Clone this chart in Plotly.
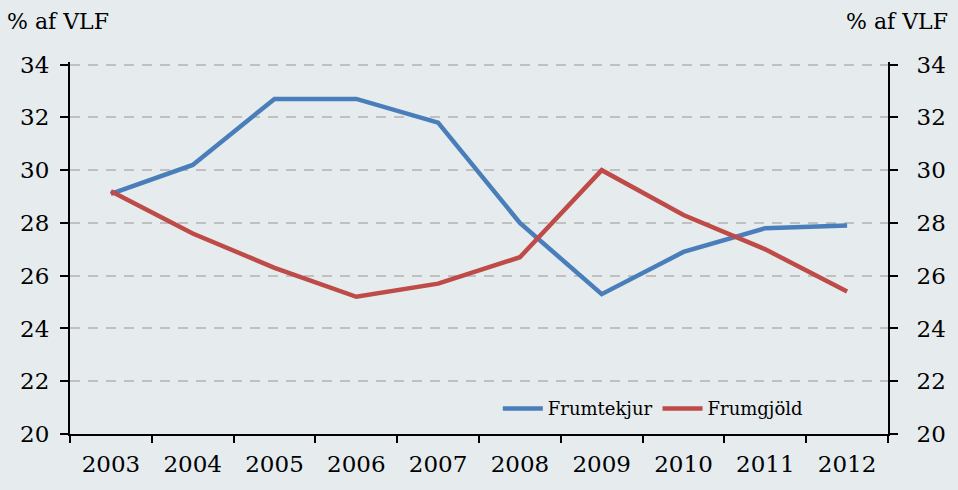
import plotly.graph_objects as go

years = ["2003", "2004", "2005", "2006", "2007", "2008", "2009", "2010", "2011", "2012"]
frumtekjur = [29.1, 30.2, 32.7, 32.7, 31.8, 28.0, 25.3, 26.9, 27.8, 27.9]
frumgjold = [29.2, 27.6, 26.3, 25.2, 25.7, 26.7, 30.0, 28.3, 27.0, 25.4]
y_ticks = [20, 22, 24, 26, 28, 30, 32, 34]

FONT = "DejaVu Serif"
BG = "#e6ebee"

fig = go.Figure()
fig.add_trace(go.Scatter(x=years, y=frumtekjur, name="Frumtekjur", mode="lines",
                         line=dict(color="#4a7ebb", width=4.5)))
fig.add_trace(go.Scatter(x=years, y=frumgjold, name="Frumgjöld", mode="lines",
                         line=dict(color="#be4b48", width=4.5)))
fig.add_trace(go.Scatter(x=years, y=frumgjold, yaxis="y2", mode="lines",
                         line=dict(width=0), opacity=0, showlegend=False, hoverinfo="skip"))

axis_common = dict(range=[20, 34.1], tickvals=y_ticks, ticks="outside", ticklen=8, tickwidth=2,
                   tickcolor="black", showline=True, linecolor="black", linewidth=2,
                   tickfont=dict(family=FONT, size=23, color="black"), zeroline=False)

fig.update_layout(
    width=958, height=490,
    paper_bgcolor=BG, plot_bgcolor=BG,
    margin=dict(l=70, r=68, t=62, b=56),
    showlegend=True,
    legend=dict(orientation="h", x=0.523, y=0.068, xanchor="left", yanchor="middle",
                bgcolor="rgba(0,0,0,0)", font=dict(family=FONT, size=18, color="black"),
                itemwidth=40, tracegroupgap=0),
    xaxis=dict(type="category", tickson="boundaries", ticks="outside", ticklen=7, tickwidth=2,
               tickcolor="black", showline=True, linecolor="black", linewidth=2,
               showgrid=False, tickfont=dict(family=FONT, size=23, color="black"),
               ticklabelstandoff=8, range=[-0.5, 9.5]),
    yaxis=dict(**axis_common, showgrid=True, gridcolor="#c0c0c0", gridwidth=2,
               griddash="10px,8px", ticklabelstandoff=6),
    yaxis2=dict(**axis_common, overlaying="y", side="right", showgrid=False,
                ticklabelstandoff=14),
)
fig.add_annotation(text="% af VLF", xref="paper", yref="paper", x=-0.08, y=1.11,
                   xanchor="left", yanchor="middle", showarrow=False,
                   font=dict(family=FONT, size=22, color="black"))
fig.add_annotation(text="% af VLF", xref="paper", yref="paper", x=1.076, y=1.11,
                   xanchor="right", yanchor="middle", showarrow=False,
                   font=dict(family=FONT, size=22, color="black"))

fig.write_html("out.html", config={"displayModeBar": False},
               post_script="document.body.style.margin='0';document.body.style.background='%s';" % BG)
